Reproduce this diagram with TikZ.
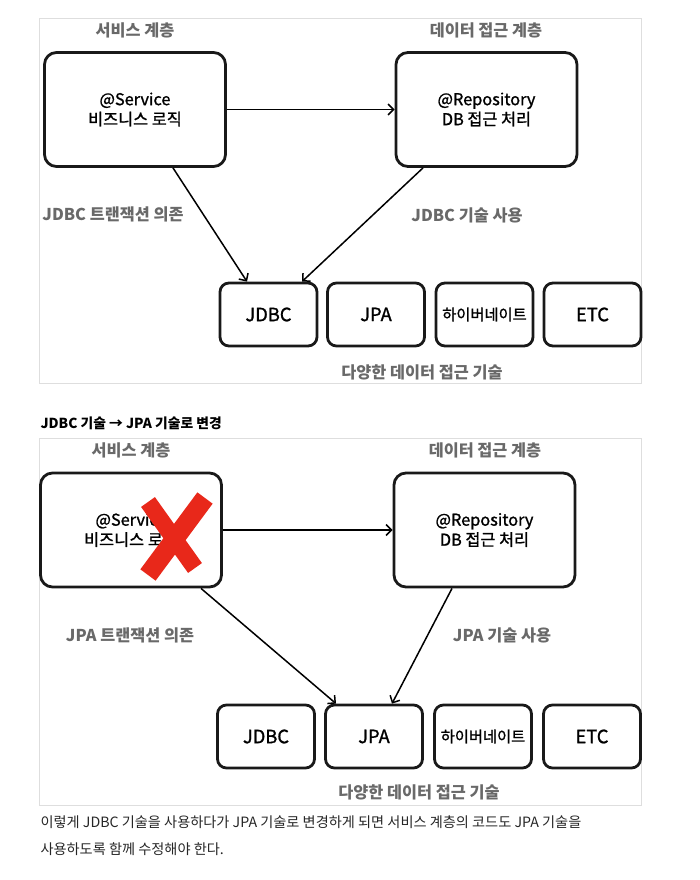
\documentclass[tikz,border=0pt]{standalone}
\usepackage{fontspec}
\setmainfont{Noto Sans CJK KR}
\newfontfamily\medfont{Noto Sans CJK KR}[FakeBold=1.2]
\usetikzlibrary{arrows.meta,calc}
\definecolor{labelgray}{RGB}{105,105,105}
\definecolor{framegray}{RGB}{222,222,222}
\definecolor{crossred}{RGB}{232,40,26}
\tikzset{
  layerbox/.style={draw=black!90, line width=2.8pt, rounded corners=12pt, minimum width=181pt, minimum height=114pt, inner sep=0pt, align=center, font=\medfont\fontsize{16.3}{20}\selectfont},
  techbox/.style={draw=black!90, line width=2.8pt, rounded corners=9pt, minimum width=97pt, minimum height=63pt, inner sep=0pt, font=\medfont\fontsize{18.3}{20}\selectfont},
  layerlabel/.style={text=labelgray, font=\bfseries\fontsize{16.3}{18}\selectfont},
  dep/.style={-{Straight Barb[length=5.5pt,width=11pt]}, line width=1.5pt},
  panelframe/.style={draw=framegray, line width=0.8pt}
}
\begin{document}
\begin{tikzpicture}[x=1pt,y=-1pt]
  \useasboundingbox (0,0) rectangle (699,880);
  % before
  \draw[panelframe] (39,18) rectangle (641,383);
  \node[layerlabel] (svclbl) at (135,30) {서비스 계층};
  \node[layerlabel] (repolbl) at (486,30) {데이터 접근 계층};
  \node[layerbox] (svc) at (135,109.5) {@Service\\비즈니스 로직};
  \node[layerbox] (repo) at (486.5,109.5) {@Repository\\DB 접근 처리};
  \node[techbox] (jdbc) at (268.5,314.5) {JDBC};
  \node[techbox] (jpa) at (376,314.5) {JPA};
  \node[techbox, font=\medfont\fontsize{15.3}{16}\selectfont] (hib) at (484.5,314.5) {하이버네이트};
  \node[techbox] (etc) at (592.5,314.5) {ETC};
  \node[layerlabel] (txlbl) at (113,214) {JDBC 트랜잭션 의존};
  \node[layerlabel] (uselbl) at (467,215) {JDBC 기술 사용};
  \node[layerlabel] (techlbl) at (422,372) {다양한 데이터 접근 기술};
  \draw[dep] (svc.east) -- (repo.west);
  \draw[dep] ($(svc.south)+(38,0)$) -- ($(jdbc.north)+(-21.5,0)$);
  \draw[dep] ($(repo.south)+(-63.5,0)$) -- ($(jdbc.north)+(33.5,0)$);
  % after
  \node[anchor=west, font=\bfseries\fontsize{13.8}{16}\selectfont] (title) at (37,423) {JDBC 기술 → JPA 기술로 변경};
  \draw[panelframe] (39,438) rectangle (641,805);
  \node[layerlabel] (svclblb) at (131,450) {서비스 계층};
  \node[layerlabel] (repolblb) at (485,450) {데이터 접근 계층};
  \node[layerbox] (svcb) at (131,530) {@Service\\비즈니스 로직};
  \node[layerbox] (repob) at (484.5,530) {@Repository\\DB 접근 처리};
  \node[techbox] (jdbcb) at (266,736.5) {JDBC};
  \node[techbox] (jpab) at (374,736.5) {JPA};
  \node[techbox, font=\medfont\fontsize{15.3}{16}\selectfont] (hibb) at (483,736.5) {하이버네이트};
  \node[techbox] (etcb) at (592,736.5) {ETC};
  \node[layerlabel] (txlblb) at (130,635) {JPA 트랜잭션 의존};
  \node[layerlabel] (uselblb) at (502,635) {JPA 기술 사용};
  \node[layerlabel] (techlblb) at (419,792) {다양한 데이터 접근 기술};
  \draw[dep] (svcb.east) -- (repob.west);
  \draw[dep] ($(svcb.south)+(70,0)$) -- ($(jpab.north)+(-38,0)$);
  \draw[dep] ($(repob.south)+(-32.5,0)$) -- ($(jpab.north)+(18,0)$);
  \draw[crossred, line width=17pt] (148,502) -- (195,568);
  \draw[crossred, line width=19pt] (205,498) -- (148,575);
  \node[anchor=base west, text=black!85, font=\fontsize{14.2}{16}\selectfont] (para1) at (37,827) {이렇게 JDBC 기술을 사용하다가 JPA 기술로 변경하게 되면 서비스 계층의 코드도 JPA 기술을};
  \node[anchor=base west, text=black!85, font=\fontsize{14.2}{16}\selectfont] (para2) at (37,854) {사용하도록 함께 수정해야 한다.};
\end{tikzpicture}
\end{document}
